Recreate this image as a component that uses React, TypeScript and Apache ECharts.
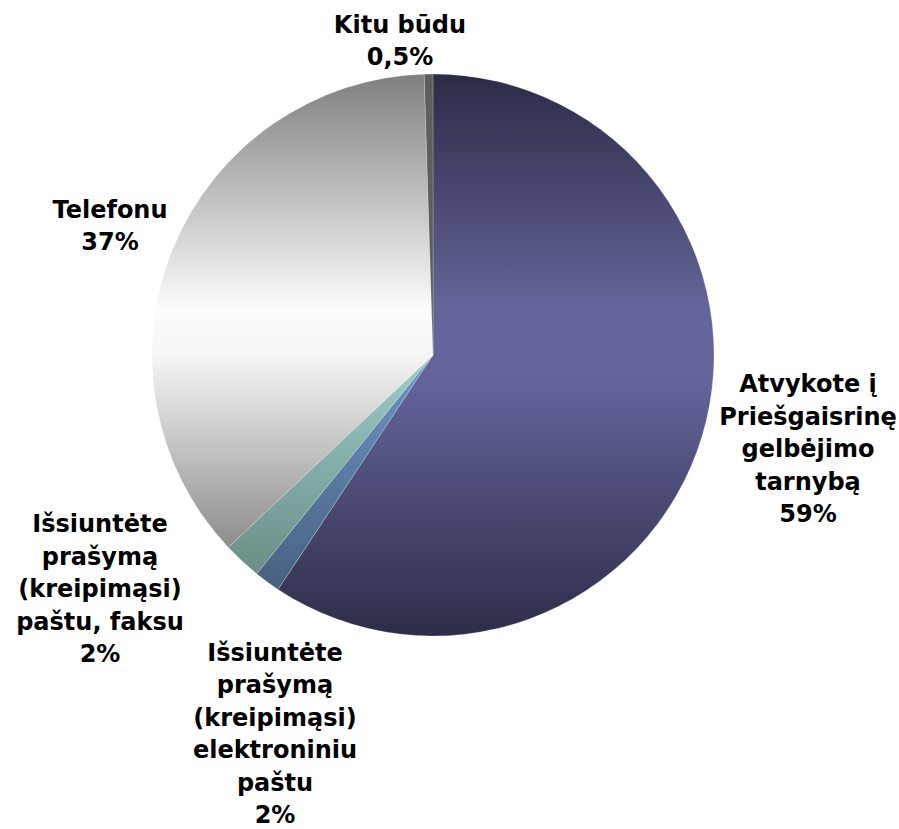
import React, { useEffect, useRef } from "react";
import * as echarts from "echarts";

const categories = [
  "Atvykote į\nPriešgaisrinę\ngelbėjimo\ntarnybą",
  "Išsiuntėte\nprašymą\n(kreipimąsi)\nelektroniniu\npaštu",
  "Išsiuntėte\nprašymą\n(kreipimąsi)\npaštu, faksu",
  "Telefonu",
  "Kitu būdu",
];
const values = [59.3, 1.5, 2.2, 36.5, 0.5];
const percentLabels = ["59%", "2%", "2%", "37%", "0,5%"];

// label anchor positions (layout only)
const labelPos = [
  [808, 449],
  [275, 734],
  [100, 589],
  [110, 226],
  [400, 41],
];

const CX = 433;
const CY = 355;
const R = 281;

function vgrad(stops: [number, string][]) {
  return new echarts.graphic.LinearGradient(
    0,
    CY - R,
    0,
    CY + R,
    stops.map(([offset, color]) => ({ offset, color })),
    true
  );
}

const sliceColors = [
  vgrad([
    [0, "#2c2b46"],
    [0.42, "#65659a"],
    [0.55, "#63639a"],
    [1, "#2e2d48"],
  ]),
  vgrad([
    [0, "#8fb4e0"],
    [0.5, "#6f95c8"],
    [1, "#3f5670"],
  ]),
  vgrad([
    [0, "#c8f2ee"],
    [0.5, "#9ccfc9"],
    [1, "#5c7a74"],
  ]),
  vgrad([
    [0, "#7f7f7f"],
    [0.42, "#fcfcfc"],
    [0.5, "#f6f6f6"],
    [0.85, "#8a8a8a"],
    [1, "#707070"],
  ]),
  "#5e5e5e",
];

export default function App() {
  const ref = useRef<HTMLDivElement>(null);
  useEffect(() => {
    if (!ref.current) return;
    const chart = echarts.init(ref.current, undefined, { renderer: "svg" });
    chart.setOption({
      animation: false,
      backgroundColor: "#ffffff",
      series: [
        {
          type: "pie",
          center: [CX, CY],
          radius: R,
          startAngle: 90,
          clockwise: true,
          avoidLabelOverlap: false,
          itemStyle: {
            borderColor: "rgba(255,255,255,0.35)",
            borderWidth: 0.6,
          },
          label: {
            show: true,
            position: "outside",
            fontFamily: "DejaVu Sans, Verdana, sans-serif",
            fontWeight: "bold",
            fontSize: 24,
            lineHeight: 32.5,
            color: "#000000",
            align: "center",
            formatter: (p: any) => `${p.name}\n${percentLabels[p.dataIndex]}`,
          },
          labelLine: { show: false },
          labelLayout: (p: any) => ({
            x: labelPos[p.dataIndex][0],
            y: labelPos[p.dataIndex][1],
            align: "center",
            verticalAlign: "middle",
          }),
          emphasis: { disabled: true },
          data: categories.map((name, i) => ({
            name,
            value: values[i],
            itemStyle: { color: sliceColors[i] },
          })),
        },
      ],
    });
    return () => chart.dispose();
  }, []);
  return (
    <div
      ref={ref}
      style={{ position: "fixed", left: 0, top: 0, width: 899, height: 829 }}
    />
  );
}
